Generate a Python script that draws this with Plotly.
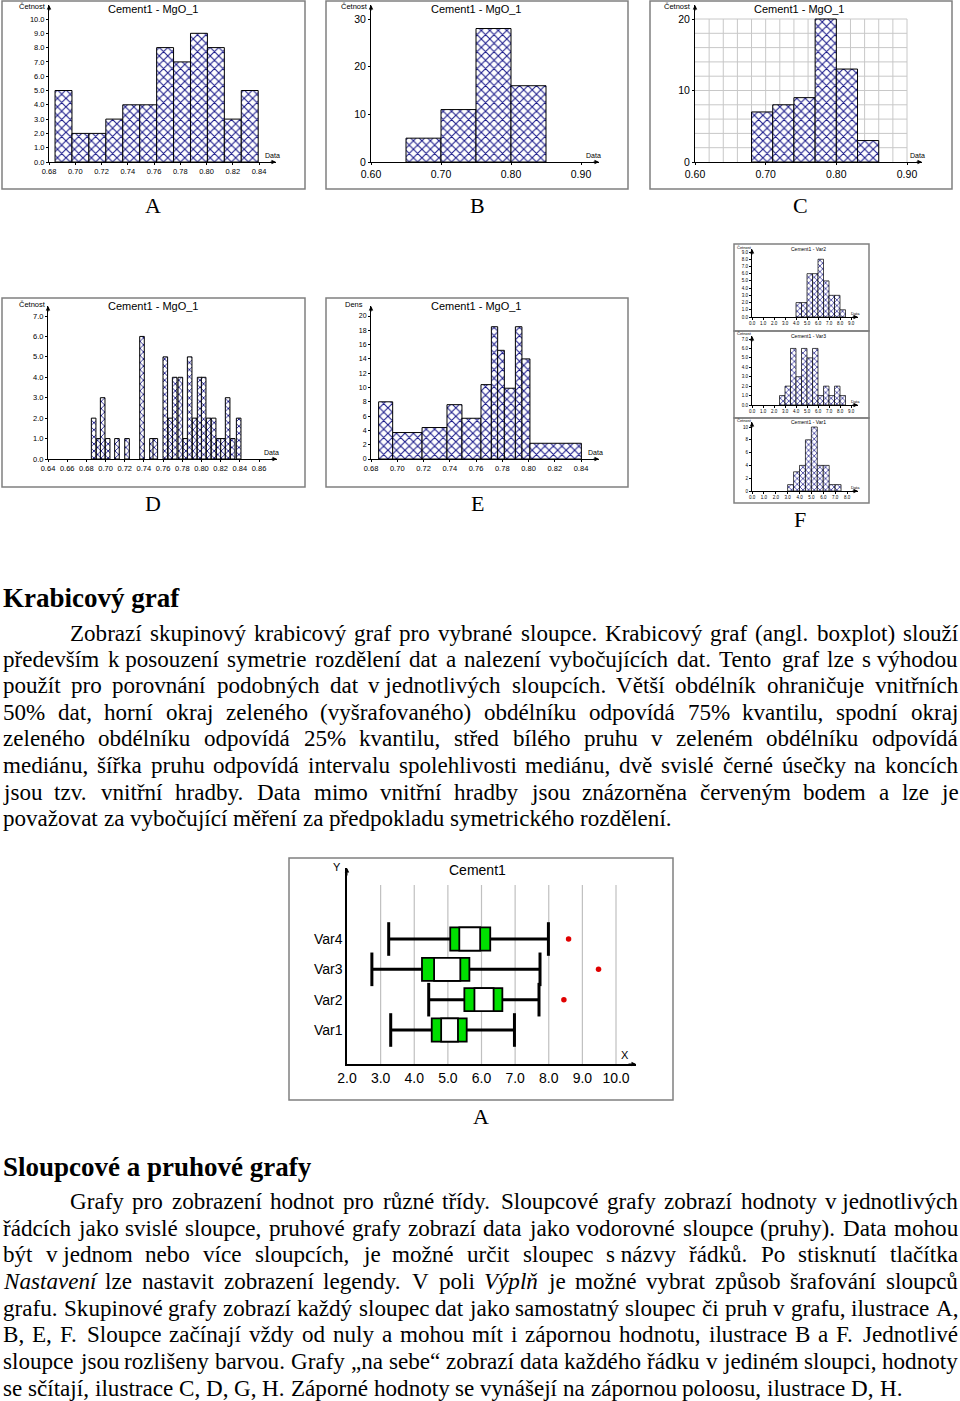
import unicodedata
import plotly.graph_objects as go

W, H = 960, 1401
SANS = "Liberation Sans, Arial, sans-serif"
SERIF = "Liberation Serif, Times New Roman, serif"
NAVY = "#1a1a8a"

# ---------------- data ----------------
A_edges = [0.6846, 0.6975, 0.7104, 0.7233, 0.7362, 0.7491, 0.7620, 0.7749, 0.7878, 0.8007, 0.8136, 0.8265, 0.8394]
A_counts = [5, 2, 2, 3, 4, 4, 8, 7, 9, 8, 3, 5]
A_xticks = [0.68, 0.70, 0.72, 0.74, 0.76, 0.78, 0.80, 0.82, 0.84]
A_yticks = [0, 1, 2, 3, 4, 5, 6, 7, 8, 9, 10]

B_edges = [0.65, 0.70, 0.75, 0.80, 0.85]
B_counts = [5, 11, 28, 16]
B_xticks = [0.60, 0.70, 0.80, 0.90]
B_yticks = [0, 10, 20, 30]

C_edges = [0.68, 0.71, 0.74, 0.77, 0.80, 0.83, 0.86]
C_counts = [7, 8, 9, 20, 13, 3]
C_xticks = [0.60, 0.70, 0.80, 0.90]
C_yticks = [0, 10, 20]
C_xgrid = [0.60, 0.62, 0.64, 0.66, 0.68, 0.70, 0.72, 0.74, 0.76, 0.78, 0.80, 0.82, 0.84, 0.86, 0.88, 0.90]
C_ygrid = [0, 2, 4, 6, 8, 10, 12, 14, 16, 18, 20]

D_centers = [0.6876, 0.6928, 0.6970, 0.7022, 0.7119, 0.7224, 0.7380, 0.7484, 0.7519, 0.7623, 0.7676,
             0.7721, 0.7780, 0.7832, 0.7877, 0.7929, 0.7981, 0.8023, 0.8075, 0.8127, 0.8180, 0.8225,
             0.8273, 0.8326, 0.8388]
D_counts = [2, 1, 3, 1, 1, 1, 6, 1, 1, 5, 2, 4, 4, 1, 5, 2, 4, 4, 2, 2, 1, 1, 3, 1, 2]
D_binwidth = 0.0048
D_xticks = [0.64, 0.66, 0.68, 0.70, 0.72, 0.74, 0.76, 0.78, 0.80, 0.82, 0.84, 0.86]
D_yticks = [0, 1, 2, 3, 4, 5, 6, 7]

E_edges = [0.6858, 0.6965, 0.7189, 0.7379, 0.7493, 0.7638, 0.7717, 0.7765, 0.7816, 0.7900, 0.7950, 0.8011, 0.8403]
E_density = [8.0, 3.7, 4.4, 7.6, 5.7, 10.4, 18.5, 15.2, 9.9, 18.5, 14.0, 2.2]
E_xticks = [0.68, 0.70, 0.72, 0.74, 0.76, 0.78, 0.80, 0.82, 0.84]
E_yticks = [0, 2, 4, 6, 8, 10, 12, 14, 16, 18, 20]

F1_edges = [4.0, 4.5, 5.0, 5.5, 6.0, 6.5, 7.0, 7.5, 8.0, 8.5]
F1_counts = [2, 2, 6, 6, 8, 5, 3, 3, 1]
F2_edges = [2.5, 3.0, 3.5, 4.0, 4.5, 5.0, 5.5, 6.0, 6.5, 7.0, 7.5, 8.0, 8.5]
F2_counts = [1, 2, 6, 3, 6, 5, 6, 1, 2, 1, 2, 1]
F3_edges = [3.0, 3.5, 4.0, 4.5, 5.0, 5.5, 6.0, 6.5, 7.0, 7.5]
F3_counts = [1, 3, 4, 8, 10, 4, 4, 1, 1]
F12_xticks = [0, 1, 2, 3, 4, 5, 6, 7, 8, 9]
F3_xticks = [0, 1, 2, 3, 4, 5, 6, 7, 8]
F1_yticks = [0, 1, 2, 3, 4, 5, 6, 7, 8, 9]
F2_yticks = [0, 1, 2, 3, 4, 5, 6, 7]
F3_yticks = [0, 2, 4, 6, 8, 10]

box_cats = ["Var1", "Var2", "Var3", "Var4"]
box_low = [3.30, 4.43, 2.74, 3.24]
box_q1 = [4.52, 5.49, 4.23, 5.07]
box_ci_lo = [4.80, 5.79, 4.59, 5.34]
box_ci_hi = [5.30, 6.36, 5.37, 5.96]
box_q3 = [5.56, 6.62, 5.64, 6.26]
box_high = [6.98, 7.71, 7.74, 7.99]
out_cats = ["Var2", "Var3", "Var4"]
out_vals = [8.45, 9.48, 8.59]
box_xticks = [2, 3, 4, 5, 6, 7, 8, 9, 10]

P1_lines = [
    "Zobrazí skupinový krabicový graf pro vybrané sloupce. Krabicový graf (angl. boxplot) slouží",
    "především k~posouzení symetrie rozdělení dat a nalezení vybočujících dat. Tento graf lze s~výhodou",
    "použít pro porovnání podobných dat v~jednotlivých sloupcích. Větší obdélník ohraničuje vnitřních",
    "50% dat, horní okraj zeleného (vyšrafovaného) obdélníku odpovídá 75% kvantilu, spodní okraj",
    "zeleného obdélníku odpovídá 25% kvantilu, střed bílého pruhu v zeleném obdélníku odpovídá",
    "mediánu, šířka pruhu odpovídá intervalu spolehlivosti mediánu, dvě svislé černé úsečky na koncích",
    "jsou tzv. vnitřní hradby. Data mimo vnitřní hradby jsou znázorněna červeným bodem a lze je",
    "považovat za vybočující měření za předpokladu symetrického rozdělení.",
]
P2_lines = [
    "Grafy pro zobrazení hodnot pro různé třídy. Sloupcové grafy zobrazí hodnoty v~jednotlivých",
    "řádcích jako svislé sloupce, pruhové grafy zobrazí data jako vodorovné sloupce (pruhy). Data mohou",
    "být v~jednom nebo více sloupcích, je možné určit sloupec s~názvy řádků. Po stisknutí tlačítka",
    "_Nastavení_ lze nastavit zobrazení legendy. V poli _Výplň_ je možné vybrat způsob šrafování sloupců",
    "grafu. Skupinové grafy zobrazí každý sloupec dat jako samostatný sloupec či pruh v grafu, ilustrace A,",
    "B, E, F. Sloupce začínají vždy od nuly a mohou mít i zápornou hodnotu, ilustrace B a F. Jednotlivé",
    "sloupce jsou rozlišeny barvou. Grafy „na sebe“ zobrazí data každého řádku v jediném sloupci, hodnoty",
    "se sčítají, ilustrace C, D, G, H. Záporné hodnoty se vynášejí na zápornou poloosu, ilustrace D, H.",
]

# ---------------- helpers ----------------
layout = {}
annotations = []
shapes = []
traces = []


def names(n):
    if n == 1:
        return "xaxis", "yaxis", "x", "y"
    return f"xaxis{n}", f"yaxis{n}", f"x{n}", f"y{n}"


def lin(p, cal):
    (pa, va), (pb, vb) = cal
    return va + (p - pa) * (vb - va) / (pb - pa)


def px(x):
    return x / W


def py(y):
    return 1 - y / H


def text(x, y, s, size, family=SANS, xanchor="center", color="black"):
    annotations.append(dict(x=px(x), y=py(y), xref="paper", yref="paper", text=s, showarrow=False,
                            xanchor=xanchor, yanchor="middle", borderpad=0, borderwidth=0,
                            font=dict(family=family, size=size, color=color)))


def arrow_x(xend, yaxis_px, length=7):
    annotations.append(dict(x=px(xend), y=py(yaxis_px), xref="paper", yref="paper", text="",
                            showarrow=True, ax=-length, ay=0, arrowhead=2, arrowsize=0.9,
                            arrowwidth=1, arrowcolor="black", standoff=0))


def arrow_y(xaxis_px, ytop, length=7):
    annotations.append(dict(x=px(xaxis_px), y=py(ytop), xref="paper", yref="paper", text="",
                            showarrow=True, ax=0, ay=length, arrowhead=2, arrowsize=0.9,
                            arrowwidth=1, arrowcolor="black", standoff=0))


def frame(x0, y0, x1, y1):
    shapes.append(dict(type="rect", xref="paper", yref="paper", x0=px(x0), x1=px(x1), y0=py(y1), y1=py(y0),
                       line=dict(color="#808080", width=1.5), fillcolor="rgba(0,0,0,0)", layer="below"))


def setup_axes(n, xcal, ycal, xdom, ydom, xticks, xfmt, yticks, yfmt, xfs, yfs, ticklen=3, lw=1):
    xa, ya, xr, yr = names(n)
    layout[xa] = dict(domain=[px(xdom[0]), px(xdom[1])], range=[lin(xdom[0], xcal), lin(xdom[1], xcal)],
                      anchor=yr, showline=True, linecolor="black", linewidth=lw, showgrid=False,
                      zeroline=False, ticks="outside" if ticklen else "", ticklen=ticklen, tickwidth=1,
                      tickcolor="black", tickvals=xticks, ticktext=[xfmt.format(v) for v in xticks],
                      tickfont=dict(family=SANS, size=xfs, color="black"), fixedrange=True,
                      automargin=False)
    layout[ya] = dict(domain=[py(ydom[0]), py(ydom[1])], range=[lin(ydom[0], ycal), lin(ydom[1], ycal)],
                      anchor=xr, showline=True, linecolor="black", linewidth=lw, showgrid=False,
                      zeroline=False, ticks="outside" if ticklen else "", ticklen=ticklen, tickwidth=1,
                      tickcolor="black", tickvals=yticks, ticktext=[yfmt.format(v) for v in yticks],
                      tickfont=dict(family=SANS, size=yfs, color="black"), fixedrange=True,
                      automargin=False)
    arrow_x(xdom[1], ydom[0])
    arrow_y(xdom[0], ydom[1])
    return xr, yr


def hist(n, centers, widths, heights, psize=6, lw=1):
    _, _, xr, yr = names(n)
    traces.append(go.Bar(x=centers, y=heights, width=widths, xaxis=xr, yaxis=yr, hoverinfo="skip",
                         marker=dict(color="white", line=dict(color="black", width=lw),
                                     pattern=dict(shape="x", fgcolor=NAVY, bgcolor="white", size=psize,
                                                  solidity=0.32, fillmode="replace"))))


def from_edges(edges):
    c = [(a + b) / 2 for a, b in zip(edges[:-1], edges[1:])]
    w = [b - a for a, b in zip(edges[:-1], edges[1:])]
    return c, w


# ---------------- histograms ----------------
TITLE = "Cement1 - MgO_1"

# A
frame(2, 1, 305, 189)
setup_axes(1, ((49, 0.68), (259, 0.84)), ((162, 0), (19, 10)), (49, 276), (162, 5),
           A_xticks, "{:.2f}", A_yticks, "{:.1f}", 7.5, 7.5, ticklen=2)
c, w = from_edges(A_edges)
hist(1, c, w, A_counts)
text(153, 9, TITLE, 11)
text(32, 7, "Četnost", 7.5)
text(272, 155, "Data", 7)

# B
frame(326, 1, 628, 189)
setup_axes(2, ((371, 0.60), (581, 0.90)), ((162, 0), (19, 30)), (371, 599), (162, 5),
           B_xticks, "{:.2f}", B_yticks, "{:d}", 10.5, 10.5, ticklen=2)
c, w = from_edges(B_edges)
hist(2, c, w, B_counts)
text(476, 9, TITLE, 11)
text(354, 7, "Četnost", 7.5)
text(593, 155, "Data", 7)

# C
frame(650, 1, 952, 189)
setup_axes(3, ((695, 0.60), (907, 0.90)), ((162, 0), (19, 20)), (695, 922), (162, 5),
           C_xticks, "{:.2f}", C_yticks, "{:d}", 10.5, 10.5, ticklen=2)
for g in C_xgrid[1:]:
    shapes.append(dict(type="line", xref="x3", yref="y3", x0=g, x1=g, y0=C_ygrid[0], y1=C_ygrid[-1],
                       line=dict(color="#c8c8c8", width=1), layer="below"))
for g in C_ygrid[1:]:
    shapes.append(dict(type="line", xref="x3", yref="y3", x0=C_xgrid[0], x1=C_xgrid[-1], y0=g, y1=g,
                       line=dict(color="#c8c8c8", width=1), layer="below"))
c, w = from_edges(C_edges)
hist(3, c, w, C_counts)
text(799, 9, TITLE, 11)
text(677, 7, "Četnost", 7.5)
text(917, 155, "Data", 7)

# D
frame(2, 298, 305, 487)
setup_axes(4, ((48, 0.64), (259, 0.86)), ((459, 0), (316, 7)), (48, 277), (459, 306),
           D_xticks, "{:.2f}", D_yticks, "{:.1f}", 7.5, 7.5, ticklen=2)
hist(4, D_centers, [D_binwidth] * len(D_centers), D_counts, psize=5)
text(153, 306, TITLE, 11)
text(32, 305, "Četnost", 7.5)
text(271, 452, "Data", 7)

# E
frame(326, 298, 628, 487)
setup_axes(5, ((371, 0.68), (581, 0.84)), ((459, 0), (316, 20)), (371, 599), (459, 306),
           E_xticks, "{:.2f}", E_yticks, "{:d}", 7.5, 7, ticklen=2)
c, w = from_edges(E_edges)
hist(5, c, w, E_density)
text(476, 306, TITLE, 11)
text(354, 305, "Dens", 7.5)
text(595, 452, "Data", 7)

# F (three small ones)
frame(734, 244, 869, 331)
setup_axes(6, ((752, 0), (851, 9)), ((317, 0), (252, 9)), (752, 858), (317, 249),
           F12_xticks, "{:.1f}", F1_yticks, "{:.1f}", 4.5, 4.5, ticklen=2)
c, w = from_edges(F1_edges)
hist(6, c, w, F1_counts, psize=4, lw=0.7)
text(808, 249, "Cement1 - Var2", 5)
text(744, 247, "Četnost", 4)
text(855, 313, "Data", 4)

frame(734, 331, 869, 418)
setup_axes(7, ((752, 0), (851, 9)), ((405, 0), (339, 7)), (752, 858), (405, 336),
           F12_xticks, "{:.1f}", F2_yticks, "{:.1f}", 4.5, 4.5, ticklen=2)
c, w = from_edges(F2_edges)
hist(7, c, w, F2_counts, psize=4, lw=0.7)
text(808, 336, "Cement1 - Var3", 5)
text(744, 334, "Četnost", 4)
text(855, 401, "Data", 4)

frame(734, 418, 869, 503)
setup_axes(8, ((752, 0), (847, 8)), ((491, 0), (427, 10)), (752, 858), (491, 422),
           F3_xticks, "{:.1f}", F3_yticks, "{:d}", 4.5, 4.5, ticklen=2)
c, w = from_edges(F3_edges)
hist(8, c, w, F3_counts, psize=4, lw=0.7)
text(808, 422, "Cement1 - Var1", 5)
text(744, 421, "Četnost", 4)
text(855, 487, "Data", 4)

# labels under charts
for lx, ly, s in [(153, 206, "A"), (477, 206, "B"), (800, 206, "C"),
                  (153, 503, "D"), (477, 503, "E"), (800, 519, "F"), (481, 1116, "A")]:
    text(lx, ly, s, 22, family=SERIF)

# ---------------- box plot ----------------
frame(289, 858, 673, 1100)
ypos = list(range(len(box_cats)))
xr, yr = "x9", "y9"
xcal9 = ((347, 2), (616, 10))
layout["xaxis9"] = dict(domain=[px(347), px(636)], range=[lin(347, xcal9), lin(636, xcal9)],
                        anchor=yr, showline=True, linecolor="black", linewidth=1.5, showgrid=False, zeroline=False,
                        ticks="", tickvals=box_xticks, ticktext=["{:.1f}".format(v) for v in box_xticks],
                        tickfont=dict(family=SANS, size=14, color="black"), fixedrange=True, automargin=False)
ycal9 = ((1030, 0), (939, 3))
layout["yaxis9"] = dict(domain=[py(1064), py(868)], range=[lin(1064, ycal9), lin(868, ycal9)],
                        anchor=xr, showline=True, linecolor="black", linewidth=1.5, showgrid=False, zeroline=False,
                        ticks="", tickvals=ypos, ticktext=box_cats,
                        tickfont=dict(family=SANS, size=14, color="black"), fixedrange=True, automargin=False)
arrow_x(636, 1064, 9)
arrow_y(347, 868, 9)
for g in box_xticks[1:]:
    shapes.append(dict(type="line", xref="x9", yref="paper", x0=g, x1=g, y0=py(1064), y1=py(885),
                       line=dict(color="#c0c0c0", width=1.2), layer="below"))
text(477, 870, "Cement1", 14)
text(337, 867, "Y", 11)
text(625, 1055, "X", 11)

wx, wy = [], []
for i in ypos:
    wx += [box_low[i], box_q1[i], None, box_q3[i], box_high[i], None]
    wy += [i, i, None, i, i, None]
traces.append(go.Scatter(x=wx, y=wy, mode="lines", line=dict(color="black", width=3),
                         xaxis=xr, yaxis=yr, hoverinfo="skip"))
traces.append(go.Scatter(x=box_low + box_high, y=ypos + ypos, mode="markers", xaxis=xr, yaxis=yr,
                         marker=dict(symbol="line-ns", size=24, line=dict(color="black", width=3)),
                         hoverinfo="skip"))
traces.append(go.Bar(y=ypos, x=[b - a for a, b in zip(box_q1, box_q3)], base=box_q1, orientation="h",
                     width=0.76, xaxis=xr, yaxis=yr, hoverinfo="skip",
                     marker=dict(color="#00e000", line=dict(color="black", width=1.8))))
traces.append(go.Bar(y=ypos, x=[b - a for a, b in zip(box_ci_lo, box_ci_hi)], base=box_ci_lo, orientation="h",
                     width=0.76, xaxis=xr, yaxis=yr, hoverinfo="skip",
                     marker=dict(color="white", line=dict(color="black", width=1.8))))
traces.append(go.Scatter(x=out_vals, y=[box_cats.index(cn) for cn in out_cats], mode="markers",
                         xaxis=xr, yaxis=yr, hoverinfo="skip",
                         marker=dict(color="#e00000", size=5.5, symbol="circle")))

# ---------------- text ----------------
TNR = {' ': 250, '\u00a0': 250, '!': 333, '%': 833, '(': 333, ')': 333, ',': 250, '-': 333, '.': 250,
       ':': 278, ';': 278, '?': 444, '„': 444, '“': 444,
       'A': 722, 'B': 667, 'C': 667, 'D': 722, 'E': 611, 'F': 556, 'G': 722, 'H': 722, 'I': 333, 'J': 389,
       'K': 722, 'L': 611, 'M': 889, 'N': 722, 'O': 722, 'P': 556, 'Q': 722, 'R': 667, 'S': 556, 'T': 611,
       'U': 722, 'V': 722, 'W': 944, 'X': 722, 'Y': 722, 'Z': 611,
       'a': 444, 'b': 500, 'c': 444, 'd': 500, 'e': 444, 'f': 333, 'g': 500, 'h': 500, 'i': 278, 'j': 278,
       'k': 500, 'l': 278, 'm': 778, 'n': 500, 'o': 500, 'p': 500, 'q': 500, 'r': 333, 's': 389, 't': 278,
       'u': 500, 'v': 500, 'w': 722, 'x': 500, 'y': 500, 'z': 444}
for d in "0123456789":
    TNR[d] = 500
TNR_I = {'N': 667, 'a': 500, 's': 389, 't': 278, 'v': 444, 'e': 444, 'n': 500, 'i': 278, 'V': 611,
         'y': 444, 'p': 500, 'l': 278}


def tw(word, italic=False):
    tab = TNR_I if italic else TNR
    s = 0
    for ch in word:
        if ch in tab:
            s += tab[ch]
            continue
        if ch in TNR and not italic:
            s += TNR[ch]
            continue
        base = unicodedata.normalize("NFD", ch)[0]
        s += tab.get(base, TNR.get(base, 500))
    return s


def parse(line):
    out = []
    for w in line.split(" "):
        it = len(w) > 2 and w.startswith("_") and w.endswith("_")
        if it:
            w = w[1:-1]
        out.append((w.replace("~", "\u00a0"), it))
    return out


def paragraph(lines, ycenters, x_left, x_indent, x_right, last_end):
    last = parse(lines[-1])
    units = sum(tw(w, it) for w, it in last) + 250 * (len(last) - 1)
    size = (last_end - x_left) * 1000 / units
    for i, line in enumerate(lines):
        toks = parse(line)
        widths = [tw(w, it) * size / 1000 for w, it in toks]
        x0 = x_indent if i == 0 else x_left
        if i < len(lines) - 1 and len(toks) > 1:
            gap = (x_right - x0 - sum(widths)) / (len(toks) - 1)
        else:
            gap = 250 * size / 1000
        x = x0
        for (w, it), ww in zip(toks, widths):
            s = f"<i>{w}</i>" if it else w
            text(x, ycenters[i], s, size, family=SERIF, xanchor="left")
            x += ww + gap
    return size


text(3, 597.5, "<b>Krabicový graf</b>", 27, family=SERIF, xanchor="left")
paragraph(P1_lines, [632.5, 659, 685.5, 712, 738.5, 765, 791.5, 818], 3, 70, 958, 672)
text(3, 1166.5, "<b>Sloupcové a pruhové grafy</b>", 27, family=SERIF, xanchor="left")
paragraph(P2_lines, [1200.5, 1227.5, 1254, 1280.5, 1307.5, 1334, 1360.5, 1387.5], 3, 70, 958, 902)

fig = go.Figure(data=traces)
fig.update_layout(width=W, height=H, margin=dict(l=0, r=0, t=0, b=0, autoexpand=False),
                  paper_bgcolor="white", plot_bgcolor="rgba(0,0,0,0)", showlegend=False,
                  barmode="overlay", annotations=annotations, shapes=shapes, **layout)
fig.write_html("out.html")
